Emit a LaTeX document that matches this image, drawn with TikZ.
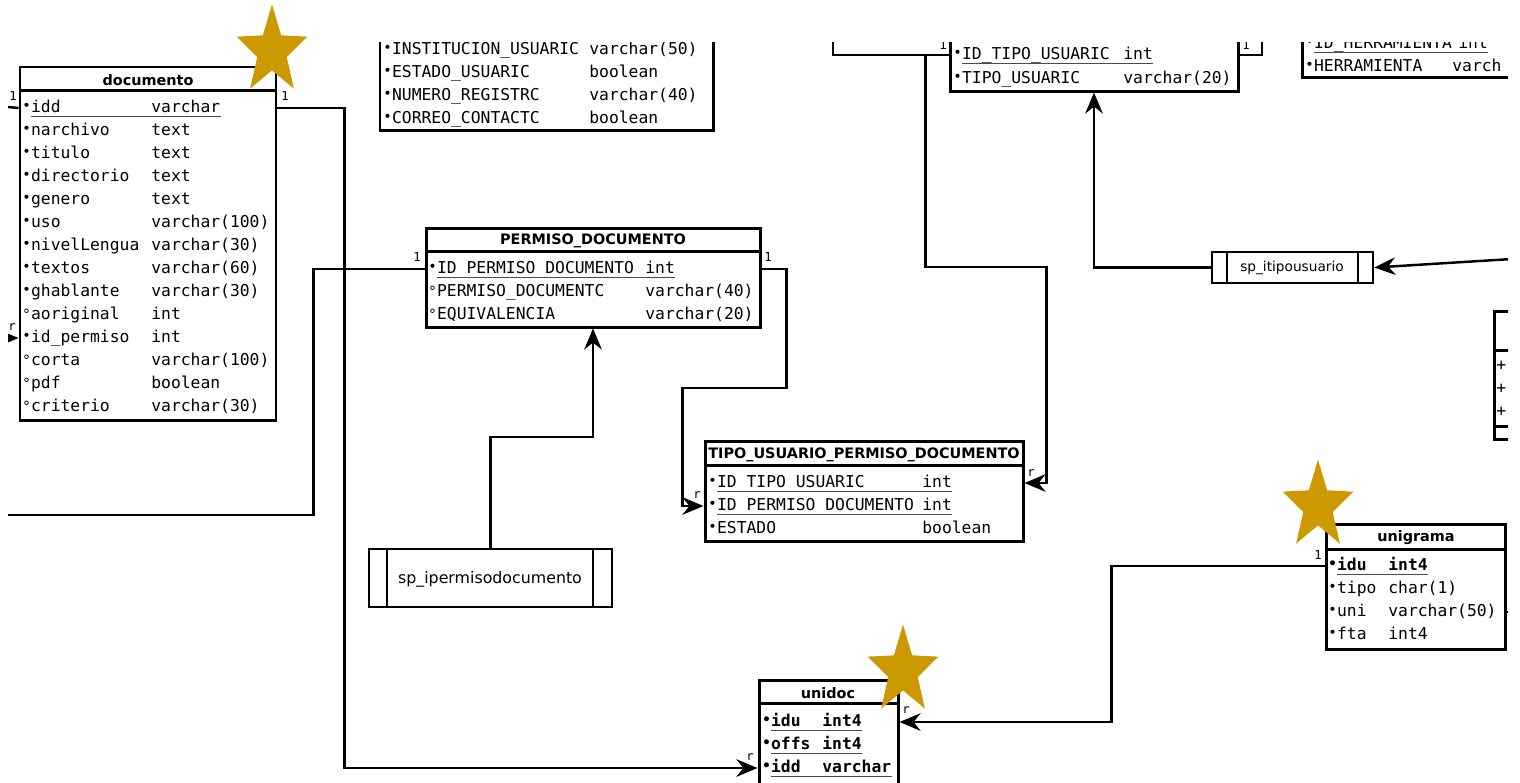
\documentclass[tikz,border=0pt]{standalone}
\usepackage{fontspec}
\usepackage{tikz}
\usetikzlibrary{arrows.meta,shapes.geometric,fit}

\newfontfamily\ermono{DejaVu Sans Mono}
\newfontfamily\ersans{DejaVu Sans}
\definecolor{stargold}{RGB}{204,153,0}
\newcommand{\req}{\makebox[5pt][l]{\fontsize{8}{8}\selectfont\raisebox{1pt}{•}}}
\newcommand{\opt}{\makebox[5pt][l]{\fontsize{8}{8}\selectfont\raisebox{0pt}{°}}}

\begin{document}
\begin{tikzpicture}[x=0.02cm,y=-0.02cm,
  tbl/.style={draw,line width=1.7pt,inner sep=0pt},
  divl/.style={line width=1.4pt},
  ttl/.style={font=\ersans\bfseries\fontsize{8.2}{10}\selectfont,inner sep=0pt},
  fld/.style={font=\ermono\fontsize{9.3}{11}\selectfont,anchor=west,inner sep=0pt,
              text height=7pt,text depth=2pt},
  pkfld/.style={fld,font=\ermono\bfseries\fontsize{9.3}{11}\selectfont},
  proc/.style={draw,line width=1.4pt,inner sep=0pt},
  proctxt/.style={font=\ersans\fontsize{9}{10}\selectfont,inner sep=0pt},
  card/.style={font=\ermono\fontsize{7}{8}\selectfont,inner sep=0pt},
  uline/.style={line width=0.7pt,black!70},
  rel/.style={line width=1.4pt},
  arr/.style={rel,-{Stealth[length=12pt,width=10pt,inset=4pt]}},
  goldstar/.style={star,star points=5,star point ratio=2.4,fill=stargold,
                   minimum size=1.86cm,inner sep=0pt,xscale=0.8}]

  \useasboundingbox[fill=white] (0,0) rectangle (1520,782);

  \begin{scope}
  \clip (8,42) rectangle (1508,782);

  % documento
  \node[tbl,fit={(20,67) (276,420)}] (documento) {};
  \draw[divl] (documento.north west) ++(0,25) -- ++(256,0);
  \node[ttl] (documento-t) at (148,80) {documento};
  \foreach \a/\b [count=\i] in {\req idd/varchar,\req narchivo/text,\req titulo/text,
      \req directorio/text,\req genero/text,\req uso/varchar(100),
      \req nivelLengua/varchar(30),\req textos/varchar(60),\req ghablante/varchar(30),
      \opt aoriginal/int,\req id\_permiso/int,\opt corta/varchar(100),
      \opt pdf/boolean,\opt criterio/varchar(30)}{
    \node[fld] (doc\i) at (22,{85+23*\i}) {\a};
    \node[fld] (doct\i) at (151,{85+23*\i}) {\b};
  }
  \draw[uline] ([xshift=5pt]doc1.south west) -- (doct1.south east);

  % usuario (cut at top)
  \node[tbl,fit={(380,20) (713,130)}] (usuario) {};
  \foreach \a/\b [count=\i] in {\req INSTITUCION\_USUARIC/varchar(50),\req ESTADO\_USUARIC/boolean,
      \req NUMERO\_REGISTRC/varchar(40),\req CORREO\_CONTACTC/boolean}{
    \node[fld] (us\i) at (383,{27+23*\i}) {\a};
    \node[fld] (ust\i) at (589,{27+23*\i}) {\b};
  }

  % PERMISO_DOCUMENTO
  \node[tbl,fit={(426,228) (760,327)}] (permiso) {};
  \draw[divl] (permiso.north west) ++(0,25) -- ++(334,0);
  \node[ttl] (permiso-t) at (593,241) {PERMISO\_DOCUMENTO};
  \foreach \a/\b [count=\i] in {\req ID PERMISO DOCUMENTO/int,\opt PERMISO\_DOCUMENTC/varchar(40),
      \opt EQUIVALENCIA/varchar(20)}{
    \node[fld] (pm\i) at (428,{246+23*\i}) {\a};
    \node[fld] (pmt\i) at (645,{246+23*\i}) {\b};
  }
  \draw[uline] ([xshift=5pt]pm1.south west) -- (pmt1.south east);

  % TIPO_USUARIO_PERMISO_DOCUMENTO
  \node[tbl,fit={(705,441) (1023,541)}] (tupd) {};
  \draw[divl] (tupd.north west) ++(0,26) -- ++(318,0);
  \node[ttl] (tupd-t) at (864,455) {TIPO\_USUARIO\_PERMISO\_DOCUMENTO};
  \foreach \a/\b [count=\i] in {\req ID TIPO USUARIC/int,\req ID PERMISO DOCUMENTO/int,
      \req ESTADO/boolean}{
    \node[fld] (tp\i) at (708,{460+23*\i}) {\a};
    \node[fld] (tpt\i) at (922,{460+23*\i}) {\b};
  }
  \draw[uline] ([xshift=5pt]tp1.south west) -- (tpt1.south east);
  \draw[uline] ([xshift=5pt]tp2.south west) -- (tpt2.south east);

  % TIPO_USUARIO (cut at top)
  \node[tbl,fit={(950,20) (1238,91)}] (tipousuario) {};
  \node[fld] (tu1) at (953,55) {\req ID\_TIPO\_USUARIC};
  \node[fld] (tut1) at (1123,55) {int};
  \node[fld] (tu2) at (953,79) {\req TIPO\_USUARIC};
  \node[fld] (tut2) at (1123,79) {varchar(20)};
  \draw[uline] ([xshift=5pt]tu1.south west) -- (tut1.south east);

  % HERRAMIENTA (cut)
  \node[tbl,fit={(1302,20) (1540,77)}] (herramienta) {};
  \node[fld] (he1) at (1305,44) {\req ID\_HERRAMIENTA};
  \node[fld] (het1) at (1458,44) {int};
  \node[fld] (he2) at (1305,67) {\req HERRAMIENTA};
  \node[fld] (het2) at (1452,67) {varch};
  \draw[uline] ([xshift=5pt]he1.south west) -- (het1.south east);

  % class at right edge (cut)
  \node[tbl,fit={(1494,311) (1540,439)}] (clase) {};
  \draw[divl] (clase.north west) ++(0,41) -- ++(46,0);
  \draw[divl] (clase.north west) ++(0,117) -- ++(46,0);
  \foreach \i in {1,2,3}{
    \node[fld] (cl\i) at (1496,{343+23*\i}) {+};
  }

  % unigrama
  \node[tbl,fit={(1326,524) (1505,649)}] (unigrama) {};
  \draw[divl] (unigrama.north west) ++(0,27) -- ++(179,0);
  \node[ttl] (unigrama-t) at (1416,538) {unigrama};
  \node[pkfld] (ug1) at (1328,566) {\req idu};
  \node[pkfld] (ugt1) at (1388,566) {int4};
  \foreach \a/\b [count=\i from 2] in {\req tipo/char(1),\req uni/varchar(50),\req fta/int4}{
    \node[fld] (ug\i) at (1328,{543+23*\i}) {\a};
    \node[fld] (ugt\i) at (1388,{543+23*\i}) {\b};
  }
  \draw[uline] ([xshift=5pt]ug1.south west) -- (ugt1.south east);

  % unidoc
  \node[tbl,fit={(759,680) (898,800)}] (unidoc) {};
  \draw[divl] (unidoc.north west) ++(0,25) -- ++(139,0);
  \node[ttl] (unidoc-t) at (828,693) {unidoc};
  \foreach \a/\b [count=\i] in {\req idu/int4,\req offs/int4,\req idd/varchar}{
    \node[pkfld] (ud\i) at (762,{699+23*\i}) {\a};
    \node[pkfld] (udt\i) at (822,{699+23*\i}) {\b};
    \draw[uline] ([xshift=5pt]ud\i.south west) -- (udt\i.south east);
  }

  % stored procedures
  \node[proc,fit={(369,549) (612,607)}] (spip) {};
  \draw[rel] (spip.north west) ++(19,0) -- ++(0,58);
  \draw[rel] (spip.north east) ++(-20,0) -- ++(0,58);
  \node[proctxt] (spip-t) at (490,579) {sp\_ipermisodocumento};

  \node[proc,fit={(1212,252) (1373,283)}] (spit) {};
  \draw[rel] (spit.north west) ++(16,0) -- ++(0,31);
  \draw[rel] (spit.north east) ++(-16,0) -- ++(0,31);
  \node[proctxt,font=\ersans\fontsize{7.8}{9}\selectfont] (spit-t) at (1292,268) {sp\_itipousuario};

  % free ends
  \coordinate (offstub) at (8,107);
  \coordinate (offdoc) at (0,338);
  \coordinate (offleft) at (8,515);
  \coordinate (offtop) at (833,30);
  \coordinate (offtop2) at (1262,30);
  \coordinate (offright) at (1512,259);

  % relations
  \draw[rel] (documento.west |- doc1) -- (offstub);
  \draw[arr] (offdoc) -- (documento.west |- doc11);
  \draw[arr] (documento.east |- doc1) -- ++(67,0) |- (unidoc.west |- ud3);
  \draw[rel] (permiso.west |- pm1) -- ++(-111,0) |- (offleft);
  \draw[arr] (permiso.east |- pm1) -- ++(25,0) -- ++(0,119) -- ++(-104,0) |- (tupd.west |- tp2);
  \draw[arr] (spip.north) -- ++(0,-111) -| (permiso.south);
  \draw[rel] (tipousuario.west |- tu1) -| (offtop);
  \draw[arr] (tipousuario.west |- tu1) ++(-23,0) -- ++(0,212) -- ++(121,0) |- (tupd.east |- tp1);
  \draw[rel] (tipousuario.east |- tu1) -| (offtop2);
  \draw[arr] (spit.west) -| (tipousuario.south);
  \draw[arr] (offright) -- (spit.east);
  \draw[arr] (unigrama.west |- ug1) -- ++(-213,0) |- (unidoc.east |- ud1);
  \draw[rel] (unigrama.east |- ug3) -- ++(8,0);

  % cardinalities
  \node[card] (c1) at (13,96) {1};
  \node[card] (c2) at (285,96) {1};
  \node[card] (c3) at (417,257) {1};
  \node[card] (c4) at (768,257) {1};
  \node[card] (c5) at (943,45) {1};
  \node[card] (c6) at (1246,45) {1};
  \node[card] (c7) at (1318,555) {1};
  \node[card] (c8) at (12,327) {r};
  \node[card] (c9) at (697,495) {r};
  \node[card] (c10) at (1031,473) {r};
  \node[card] (c11) at (750,757) {r};
  \node[card] (c12) at (906,710) {r};
  \end{scope}

  % stars
  \node[goldstar] (star1) at (272,51) {};
  \node[goldstar] (star2) at (1318,506) {};
  \node[goldstar] (star3) at (903,671) {};
\end{tikzpicture}
\end{document}
